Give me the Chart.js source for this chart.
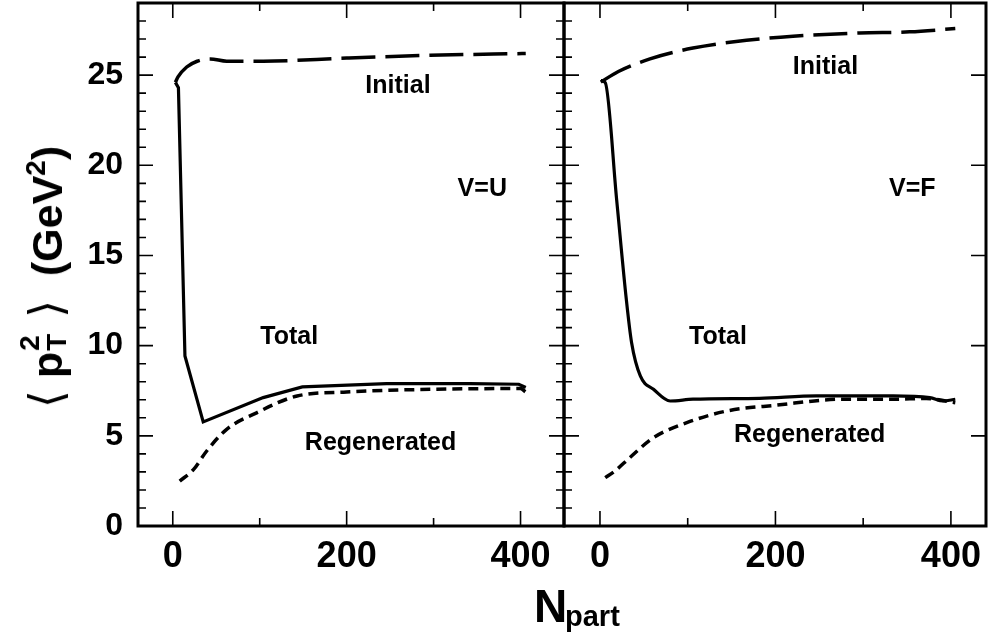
<!DOCTYPE html>
<html>
<head>
<meta charset="utf-8">
<script src="https://cdn.jsdelivr.net/npm/chart.js@4/dist/chart.umd.min.js"></script>
<style>
  body { margin: 0; background: #fff; }
  #wrap { position: relative; width: 989px; height: 636px; overflow: hidden;
          font-family: "Liberation Sans", Arial, sans-serif; font-weight: bold; color: #000; }
  #c-left { position: absolute; left: 0; top: 0; }
  #c-right { position: absolute; left: 560px; top: 0; }
  #ytitle { position: absolute; left: 46px; top: 277px; white-space: nowrap; font-size: 43px;
            transform: translate(-50%, -50%) rotate(-90deg); line-height: 1; }
  #ytitle .br { font-family: "DejaVu Sans", sans-serif; font-weight: normal; font-size: 46px; }
  #ytitle .ss { display: inline-block; position: relative; width: 22px; height: 43px; vertical-align: top; }
  #ytitle .ss span { position: absolute; left: 1px; font-size: 28px; }
  #ytitle .ss .sup { top: -7px; }
  #ytitle .ss .sub { top: 20px; }
  #ytitle sup { font-size: 28px; vertical-align: 0; position: relative; top: -17px; }
  .xt { position: absolute; line-height: 1; white-space: nowrap; }
</style>
</head>
<body>
<div id="wrap">
  <canvas id="c-left" width="568" height="636"></canvas>
  <canvas id="c-right" width="429" height="636"></canvas>
  <div id="ytitle"><span class="br">⟨</span> p<span class="ss"><span class="sup">2</span><span class="sub">T</span></span> <span class="br">⟩</span>&nbsp; (GeV<sup>2</sup>)</div>
  <div class="xt" style="left:534px;top:583px;font-size:46px;">N</div>
  <div class="xt" style="left:565px;top:602px;font-size:29px;">part</div>
</div>
<script>
// V=U panel (left)
const NPART_INIT_U = [3, 6, 16, 28, 43, 62, 104, 200, 296, 406];
const INIT_U       = [24.6, 24.9, 25.45, 25.77, 25.9, 25.77, 25.77, 25.95, 26.1, 26.2];
const NPART_TOT_U  = [3, 6.5, 14, 35, 104, 149, 246, 342, 398, 406];
const TOT_U        = [24.6, 24.3, 9.43, 5.77, 7.12, 7.71, 7.9, 7.9, 7.86, 7.68];
const NPART_REG_U  = [8, 24, 39, 62, 97, 143, 200, 296, 400, 406];
const REG_U        = [2.49, 3.14, 4.16, 5.36, 6.29, 7.21, 7.43, 7.58, 7.62, 7.43];

// V=F panel (right)
const NPART_INIT_F = [1, 21, 57, 106, 167, 220, 296, 353, 405];
const INIT_F       = [24.62, 25.2, 25.9, 26.5, 26.93, 27.16, 27.34, 27.4, 27.58];
const NPART_TOT_F  = [1, 6, 19, 30, 36, 46, 61, 80, 106, 182, 247, 334, 376, 391, 405];
const TOT_F        = [24.7, 24.58, 18.1, 12.58, 10.18, 8.32, 7.58, 6.93, 7.03, 7.08, 7.21, 7.21, 7.12, 6.93, 7.03];
const NPART_REG_F  = [6, 17, 34, 61, 99, 145, 201, 277, 334, 372, 405];
const REG_F        = [2.68, 3.05, 3.79, 4.9, 5.73, 6.38, 6.7, 7.03, 7.03, 7.07, 6.84];

const X_TICKS = [0, 200, 400];
const X_MINOR = [100, 300];
const Y_TICKS = [0, 5, 10, 15, 20, 25];
const Y_MINOR = [1,2,3,4,6,7,8,9,11,12,13,14,16,17,18,19,21,22,23,24,26,27,28];

const NOTES_U = [
  { text: 'Initial', x: 259, y: 24.4 },
  { text: 'V=U', x: 356, y: 18.66 },
  { text: 'Total', x: 134, y: 10.48 },
  { text: 'Regenerated', x: 239, y: 4.58 },
];
const NOTES_F = [
  { text: 'Initial', x: 257, y: 25.46 },
  { text: 'V=F', x: 356, y: 18.66 },
  { text: 'Total', x: 134.5, y: 10.5 },
  { text: 'Regenerated', x: 239, y: 5.02 },
];

const FONT = '"Liberation Sans", Arial, sans-serif';

function pts(xs, ys) { return xs.map((x, i) => ({ x: x, y: ys[i] })); }

function lines(init, tot, reg, totSmooth) {
  const base = { borderColor: '#000', pointRadius: 0, fill: false };
  return [
    { ...base, data: init, borderWidth: 3.5, borderDash: [34, 10], cubicInterpolationMode: 'monotone' },
    { ...base, data: tot, borderWidth: 3.2, tension: 0, cubicInterpolationMode: totSmooth ? 'monotone' : 'default' },
    { ...base, data: reg, borderWidth: 3.5, borderDash: [10, 6], cubicInterpolationMode: 'monotone' },
  ];
}

// frame, inward ticks and panel labels
function framePlugin(notes, minorRight) {
  return {
    id: 'frame',
    afterDatasetsDraw(chart) {
      const { ctx, chartArea: a, scales: { x, y } } = chart;
      ctx.save();
      ctx.strokeStyle = '#000';
      ctx.lineWidth = 1.6;
      ctx.beginPath();
      const xt = (vals, len) => vals.forEach(v => {
        const px = x.getPixelForValue(v);
        ctx.moveTo(px, a.bottom); ctx.lineTo(px, a.bottom - len);
        ctx.moveTo(px, a.top); ctx.lineTo(px, a.top + len);
      });
      xt(X_TICKS, 15); xt(X_MINOR, 8);
      const yt = (vals, len, right) => vals.forEach(v => {
        const py = y.getPixelForValue(v);
        ctx.moveTo(a.left, py); ctx.lineTo(a.left + len, py);
        if (right || minorRight) { ctx.moveTo(a.right, py); ctx.lineTo(a.right - len, py); }
      });
      yt(Y_TICKS, 15, true); yt(Y_MINOR, 8, false);
      ctx.stroke();

      ctx.lineWidth = 3;
      ctx.strokeRect(a.left, a.top, a.right - a.left, a.bottom - a.top);

      ctx.fillStyle = '#000';
      ctx.font = 'bold 25px ' + FONT;
      ctx.textAlign = 'center';
      ctx.textBaseline = 'middle';
      notes.forEach(n => ctx.fillText(n.text, x.getPixelForValue(n.x), y.getPixelForValue(n.y)));
      ctx.restore();
    }
  };
}

function makePanel(id, datasets, xmin, xmax, showY, padding, notes) {
  return new Chart(document.getElementById(id), {
    type: 'line',
    data: { datasets: datasets },
    options: {
      responsive: false,
      animation: false,
      layout: { padding: padding },
      plugins: { legend: { display: false }, tooltip: { enabled: false } },
      scales: {
        x: {
          type: 'linear', min: xmin, max: xmax,
          grid: { display: false, drawTicks: false },
          border: { display: false },
          afterBuildTicks: s => { s.ticks = X_TICKS.map(v => ({ value: v })); },
          afterFit: s => { s.height = 110; s.paddingLeft = 0; s.paddingRight = 0; },
          ticks: { color: '#000', padding: 9, maxRotation: 0, autoSkip: false,
                   font: { family: FONT, size: 36, weight: 'bold' } },
        },
        y: {
          min: 0, max: 29, display: showY ? true : false,
          grid: { display: false, drawTicks: false },
          border: { display: false },
          afterBuildTicks: s => { s.ticks = Y_TICKS.map(v => ({ value: v })); },
          afterFit: s => { s.width = showY ? 138 : 0; s.paddingTop = 0; s.paddingBottom = 0; },
          ticks: { color: '#000', padding: 15, font: { family: FONT, size: 32, weight: 'bold' } },
        },
      },
    },
    plugins: [framePlugin(notes, showY)],
  });
}

makePanel('c-left',
  lines(pts(NPART_INIT_U, INIT_U), pts(NPART_TOT_U, TOT_U), pts(NPART_REG_U, REG_U), false),
  -40, 450, true, { top: 3, right: 4, left: 0, bottom: 0 }, NOTES_U);

makePanel('c-right',
  lines(pts(NPART_INIT_F, INIT_F), pts(NPART_TOT_F, TOT_F), pts(NPART_REG_F, REG_F), true),
  -41, 440, false, { top: 3, right: 3, left: 4, bottom: 0 }, NOTES_F);
</script>
</body>
</html>
